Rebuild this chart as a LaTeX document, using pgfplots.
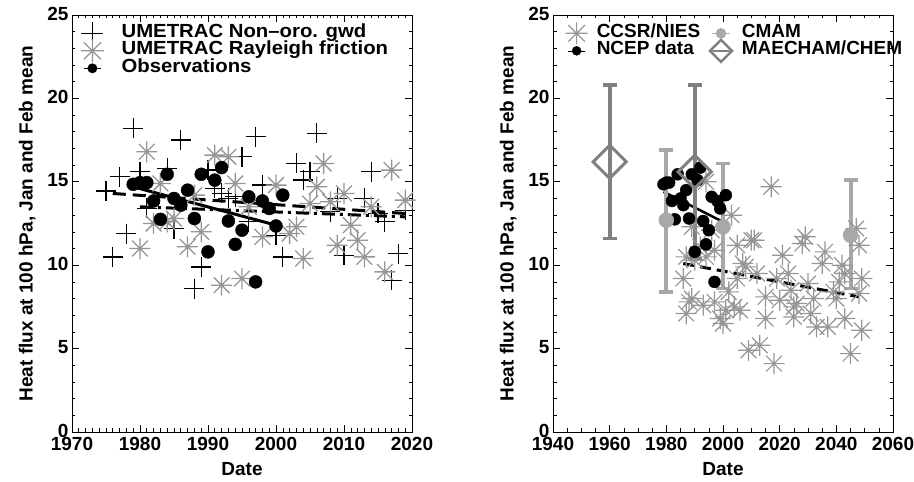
\documentclass[border=0pt]{standalone}
\usepackage{fontspec}
\setmainfont{Liberation Sans}
\newfontfamily\widefam[FakeStretch=1.07]{Liberation Sans}
\usepackage{pgfplots}
\pgfplotsset{compat=1.18}

\definecolor{stargray}{RGB}{150,150,150}
\definecolor{cmamgray}{RGB}{168,168,168}
\definecolor{maegray}{RGB}{128,128,128}

% IDL-style asterisk with 8 spokes
\pgfdeclareplotmark{ast8}{%
  \pgfpathmoveto{\pgfqpoint{-\pgfplotmarksize}{0pt}}\pgfpathlineto{\pgfqpoint{\pgfplotmarksize}{0pt}}%
  \pgfpathmoveto{\pgfqpoint{0pt}{-\pgfplotmarksize}}\pgfpathlineto{\pgfqpoint{0pt}{\pgfplotmarksize}}%
  \pgfpathmoveto{\pgfqpoint{-.75\pgfplotmarksize}{-.75\pgfplotmarksize}}\pgfpathlineto{\pgfqpoint{.75\pgfplotmarksize}{.75\pgfplotmarksize}}%
  \pgfpathmoveto{\pgfqpoint{-.75\pgfplotmarksize}{.75\pgfplotmarksize}}\pgfpathlineto{\pgfqpoint{.75\pgfplotmarksize}{-.75\pgfplotmarksize}}%
  \pgfusepathqstroke}

\newcommand{\bigf}{\fontsize{19}{22}\selectfont\bfseries}
\newcommand{\legf}{\widefam\fontsize{19}{21}\selectfont\bfseries}

\pgfplotsset{
  legimg/.style={legend image code/.code={%
    \begin{pgfinterruptboundingbox}
    \draw[mark repeat=2,mark phase=2,##1] plot coordinates {(0cm,0cm) (0.3cm,0cm) (0.6cm,0cm)};
    \end{pgfinterruptboundingbox}
    \path (0cm,0pt) rectangle (0.6cm,0pt);}},
  heatax/.style={
    scale only axis, width=340pt, height=417pt,
    ymin=0, ymax=25, ytick={0,5,...,25}, minor y tick num=4,
    tick align=inside, major tick length=7pt, minor tick length=3.5pt,
    every tick/.style={black, line width=0.6pt},
    axis line style={line width=0.8pt},
    tick label style={font=\bigf},
    xticklabel style={yshift=-4pt, inner ysep=1pt},
    yticklabel style={yshift=1.5pt, inner ysep=1pt},
    label style={font=\bigf},
    /pgf/number format/assume math mode=true,
    /pgf/number format/1000 sep={},
    xlabel={Date}, ylabel={Heat flux at 100 hPa, Jan and Feb mean},
    x label style={at={(axis description cs:0.5,-0.089)}, anchor=center},
    y label style={at={(axis description cs:-0.132,0.5)}, anchor=center},
    legend cell align=left,
    legend style={draw=none, fill=none, inner sep=0pt, outer sep=0pt, font=\bigf,
      row sep=0pt, nodes={text height=12pt, text depth=4.5pt, inner ysep=0.5pt}},
  },
}

\begin{document}
\begin{tikzpicture}
% ---------------- left panel ----------------
\begin{axis}[heatax,
  xmin=1970, xmax=2020, xtick={1970,1980,...,2020}, minor x tick num=9,
  legend style={at={(axis description cs:0.033,0.977)}, anchor=north west,
    font=\legf, nodes={inner xsep=20pt}},
]
\addlegendimage{only marks, mark=+, mark size=11pt, black, line width=1.3pt, legimg}
\addlegendentry{UMETRAC Non–oro. gwd}
\addlegendimage{only marks, mark=ast8, mark size=11.5pt, stargray, line width=1.3pt, legimg}
\addlegendentry{UMETRAC Rayleigh friction}
\addlegendimage{only marks, mark=*, mark size=4.7pt, black, legimg}
\addlegendentry{Observations}

% non-orographic gravity wave drag run
\addplot[forget plot, only marks, mark=+, mark size=10pt, black, line width=1.3pt] table {
x y
1975 14.45
1976 10.5
1977 15.3
1978 11.9
1979 18.2
1980 15.6
1981 13.4
1984 15.8
1985 12.2
1986 17.5
1988 8.6
1989 9.9
1990 15.7
1991 14.6
1992 14.3
1993 14.0
1994 14.1
1995 16.5
1996 12.6
1997 17.7
1998 14.8
2000 11.8
2001 10.5
2003 16.1
2004 15.1
2005 15.6
2006 17.9
2008 13.2
2009 14.0
2010 10.6
2011 12.4
2013 14.0
2014 15.6
2015 13.1
2016 12.6
2017 9.1
2018 10.7
2019 13.3
};
% Rayleigh friction run
\addplot[forget plot, only marks, mark=ast8, mark size=10.5pt, stargray, line width=1.3pt] table {
x y
1980 11.0
1981 16.8
1982 12.5
1983 14.9
1984 12.6
1985 12.8
1987 11.1
1988 14.2
1989 12.0
1991 16.6
1992 8.8
1993 16.5
1994 14.9
1995 9.2
1996 13.5
1998 11.7
2000 14.8
2002 11.9
2003 12.3
2004 10.4
2005 13.7
2006 14.7
2007 16.1
2008 13.8
2009 11.2
2010 14.3
2011 12.4
2012 11.5
2013 10.5
2014 13.5
2016 9.6
2017 15.7
2019 13.9
};
% observations
\addplot[forget plot, only marks, mark=*, mark size=6.5pt, black] table {
x y
1979 14.85
1980 14.95
1981 14.95
1982 13.85
1983 12.75
1984 15.45
1985 14.0
1986 13.6
1987 14.5
1988 12.8
1989 15.45
1990 10.8
1991 15.1
1992 15.85
1993 12.65
1994 11.25
1995 12.1
1996 14.1
1997 9.0
1998 13.85
1999 13.4
2000 12.35
2001 14.2
};
% trends
\addplot[forget plot, black, line width=3pt, dash pattern=on 13pt off 7pt] coordinates {(1976,14.3) (2019,13.1)};
\addplot[forget plot, black, line width=3pt, dash pattern=on 13pt off 5pt on 3pt off 5pt] coordinates {(1980,13.5) (2019,12.9)};
\addplot[forget plot, black, line width=3pt] coordinates {(1979,14.7) (2000,12.4)};
\end{axis}

% ---------------- right panel ----------------
\begin{axis}[heatax, at={(481pt,0pt)},
  xmin=1940, xmax=2060, xtick={1940,1960,...,2060}, minor x tick num=3,
  legend columns=2,
  legend style={at={(axis description cs:0.0426,0.977)}, anchor=north west,
    nodes={inner xsep=11pt}, /tikz/every even column/.append style={column sep=0pt}},
]
\addlegendimage{only marks, mark=ast8, mark size=11pt, stargray, line width=1.2pt, legimg}
\addlegendentry{CCSR/NIES}
\addlegendimage{only marks, mark=*, mark size=5pt, cmamgray, legimg}
\addlegendentry{CMAM}
\addlegendimage{only marks, mark=*, mark size=4.5pt, black, legimg}
\addlegendentry{NCEP data}
\addlegendimage{only marks, mark=square, mark size=7.8pt, maegray, line width=2.5pt,
  mark options={rotate=45}, legimg}
\addlegendentry{MAECHAM/CHEM}

% CCSR/NIES run
\addplot[forget plot, only marks, mark=ast8, mark size=10.5pt, stargray, line width=1.2pt] table {
x y
1986 9.2
1987 10.5
1987 7.1
1988 7.8
1989 12.3
1989 8.0
1990 10.3
1992 11.1
1993 7.6
1994 10.5
1994 15.0
1996 12.1
1997 10.9
1997 7.8
1999 6.8
2000 6.5
2001 7.3
2002 8.4
2003 13.0
2004 7.5
2005 9.2
2005 11.2
2006 7.3
2007 10.1
2008 9.9
2009 4.9
2010 11.5
2011 11.5
2012 9.5
2013 5.2
2015 8.1
2015 6.8
2017 14.7
2018 4.1
2019 9.2
2020 7.9
2021 10.6
2023 9.5
2024 8.5
2025 7.5
2025 6.9
2026 7.7
2028 11.3
2029 11.7
2030 8.9
2031 7.1
2032 8.0
2033 6.3
2035 10.1
2036 10.8
2037 6.3
2039 8.4
2040 8.0
2041 9.0
2042 10.0
2043 9.5
2043 6.8
2045 4.7
2047 12.2
2048 11.2
2048 8.3
2049 6.1
2049 9.2
};
\addplot[forget plot, black, line width=3pt, dash pattern=on 11pt off 6pt] coordinates {(1986,10.1) (2048,8.1)};
% NCEP data
\addplot[forget plot, only marks, mark=*, mark size=6pt, black] table {
x y
1979 14.85
1980 14.95
1981 14.95
1982 13.85
1983 12.75
1984 15.45
1985 14.0
1986 13.6
1987 14.5
1988 12.8
1989 15.45
1990 10.8
1991 15.1
1992 15.85
1993 12.65
1994 11.25
1995 12.1
1996 14.1
1997 9.0
1998 13.85
1999 13.4
2000 12.35
2001 14.2
};
\addplot[forget plot, black, line width=2.5pt] coordinates {(1979,14.4) (2000,12.6)};
% CMAM
\addplot[forget plot, only marks, mark=*, mark size=7.5pt, cmamgray,
  error bars/.cd, y dir=both, y explicit, error mark=|,
  error bar style={line width=4pt, cmamgray},
  error mark options={mark size=7pt, line width=3.5pt, cmamgray}]
  coordinates {
  (1980,12.7) += (0,4.2) -= (0,4.3)
  (2000,12.3) += (0,3.8) -= (0,3.7)
  (2045,11.8) += (0,3.3) -= (0,3.2)
};
% MAECHAM/CHEM
\addplot[forget plot, only marks, mark=square, mark size=11.7pt, maegray, line width=3pt,
  mark options={rotate=45},
  error bars/.cd, y dir=both, y explicit, error mark=|,
  error bar style={line width=4pt, maegray},
  error mark options={mark size=7pt, line width=3.5pt, maegray}]
  coordinates {
  (1960,16.2) += (0,4.6) -= (0,4.6)
  (1990,15.6) += (0,5.2) -= (0,5.2)
};
\end{axis}
\pgfresetboundingbox
\useasboundingbox (-72pt,-50pt) rectangle (842pt,432pt);
\end{tikzpicture}
\end{document}
